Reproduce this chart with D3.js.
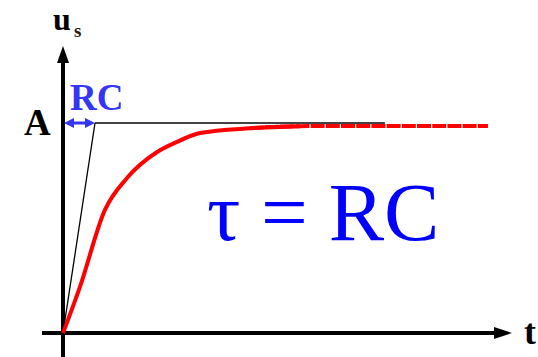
<!DOCTYPE html>
<html>
<head>
<meta charset="utf-8">
<script src="https://cdn.jsdelivr.net/npm/d3@7"></script>
<style>
  body { margin: 0; background: #fff; }
</style>
</head>
<body>
<div id="chart"></div>
<script>
// time in units of RC, response as fraction of A
const tValues = [0, 0.53, 1.31, 2.0, 2.94, 3.56, 4.28, 5.84, 7.4, 10.06, 13.28];
const uValues = [0, 0.22, 0.586, 0.738, 0.862, 0.91, 0.952, 0.975, 0.985, 0.986, 0.986];
const axisLabels = ["u", "s", "t", "A"];
const tauLabel = "τ = RC";
const rcLabel = "RC";
const tangentT = [0, 1];
const asymptoteT = [1, 10.06];

const width = 538, height = 357;
const serif = "'Liberation Serif', 'Times New Roman', 'DejaVu Serif', serif";

const svg = d3.select("#chart").append("svg")
  .attr("width", width)
  .attr("height", height);

const x = d3.scaleLinear().domain([0, 14]).range([63, 511]);
const y = d3.scaleLinear().domain([0, 1]).range([333, 123]);

// axes
const x0 = x(0), y0 = y(0);
svg.append("line")
  .attr("x1", 42).attr("x2", 496)
  .attr("y1", y0).attr("y2", y0)
  .attr("stroke", "#000").attr("stroke-width", 4);
svg.append("path")
  .attr("d", `M512,${y0} L494,${y0 - 6} L494,${y0 + 6} Z`)
  .attr("fill", "#000");

svg.append("line")
  .attr("x1", x0).attr("x2", x0)
  .attr("y1", height).attr("y2", 60)
  .attr("stroke", "#000").attr("stroke-width", 4);
svg.append("path")
  .attr("d", `M${x0},46 L${x0 - 6},63 L${x0 + 6},63 Z`)
  .attr("fill", "#000");

// asymptote A
svg.append("line")
  .attr("x1", x(asymptoteT[0])).attr("x2", x(asymptoteT[1]))
  .attr("y1", y(1)).attr("y2", y(1))
  .attr("stroke", "#444").attr("stroke-width", 2);

// tangent at origin
svg.append("line")
  .attr("x1", x(tangentT[0])).attr("y1", y(0))
  .attr("x2", x(tangentT[1])).attr("y2", y(1))
  .attr("stroke", "#000").attr("stroke-width", 1.3);

// response curve
const pts = tValues.map((t, i) => ({ t, u: uValues[i] }));
const line = d3.line().x(d => x(d.t)).y(d => y(d.u)).curve(d3.curveMonotoneX);
svg.append("path")
  .datum(pts.filter(d => d.t <= 7.4))
  .attr("d", line)
  .attr("fill", "none")
  .attr("stroke", "#ff0000")
  .attr("stroke-width", 4)
  .attr("stroke-linejoin", "round");
svg.append("path")
  .datum(pts.filter(d => d.t >= 5.84))
  .attr("d", line)
  .attr("fill", "none")
  .attr("stroke", "#ff0000")
  .attr("stroke-width", 4)
  .attr("stroke-dasharray", "14,1.2");

// RC double arrow
const blue2 = "#3535f5";
svg.append("line")
  .attr("x1", x(0) + 8).attr("x2", x(1) - 8)
  .attr("y1", y(1)).attr("y2", y(1))
  .attr("stroke", blue2).attr("stroke-width", 3);
svg.append("path")
  .attr("d", `M${x(0) + 1},${y(1)} L${x(0) + 11},${y(1) - 5} L${x(0) + 11},${y(1) + 5} Z`)
  .attr("fill", blue2);
svg.append("path")
  .attr("d", `M${x(1)},${y(1)} L${x(1) - 10},${y(1) - 5} L${x(1) - 10},${y(1) + 5} Z`)
  .attr("fill", blue2);

function label(txt, px, py, size, bold, fill) {
  return svg.append("text")
    .attr("x", px).attr("y", py)
    .attr("font-family", serif)
    .attr("font-size", size)
    .attr("font-weight", bold ? "bold" : "normal")
    .attr("fill", fill || "#000")
    .text(txt);
}

label(rcLabel, 70, 110, 37, true, blue2);

// axis labels
label(axisLabels[0], 53, 30, 32, true);
label(axisLabels[1], 74, 37, 19, true, "#2a1a10");
label(axisLabels[2], 524, 344, 36, true);
label(axisLabels[3], 24, 135, 37, true);

// tau = RC
label(tauLabel, 207, 240, 83, false, "#0000ff");
</script>
</body>
</html>
